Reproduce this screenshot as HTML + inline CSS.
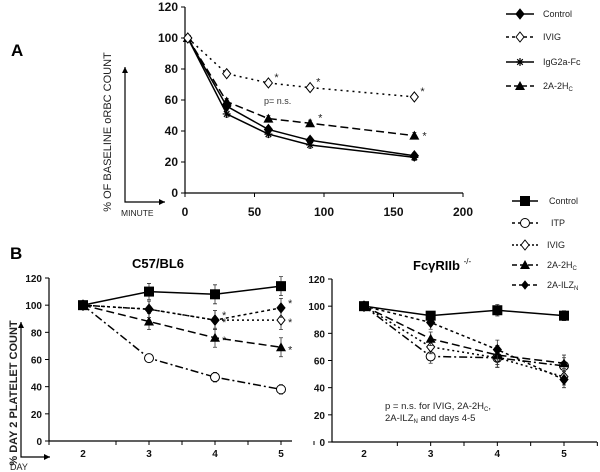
<!DOCTYPE html>
<html><head><meta charset="utf-8">
<style>
html,body{margin:0;padding:0;background:#fff;}
svg{display:block;font-family:"Liberation Sans",Arial,sans-serif;}
.tk{font-size:12px;font-weight:bold;fill:#111;}
.tks{font-size:10px;font-weight:bold;fill:#111;}
.lg{font-size:9px;fill:#222;}
</style></head>
<body>
<svg id="fig" width="600" height="472" viewBox="0 0 600 472">
<text x="11" y="56" font-size="17" font-weight="bold">A</text>
<text x="10" y="259" font-size="17" font-weight="bold">B</text>
<text transform="translate(111,132) rotate(-90)" text-anchor="middle" font-size="11" fill="#222">% OF BASELINE oRBC COUNT</text>
<text x="121" y="216" font-size="8.5" fill="#222">MINUTE</text>
<text transform="translate(17,393) rotate(-90)" text-anchor="middle" font-size="11" font-weight="bold" fill="#222">% DAY  2  PLATELET COUNT</text>
<text x="10" y="470" font-size="9" fill="#222">DAY</text>
<text x="158" y="268" text-anchor="middle" font-size="13" font-weight="bold">C57/BL6</text>
<text x="413" y="270" font-size="13" font-weight="bold">FcγRIIb <tspan font-size="8" dy="-6" font-weight="normal">-/-</tspan></text>
<text x="385" y="409" font-size="9.5" fill="#222">p = n.s.  for  IVIG, 2A-2H<tspan font-size="6" dy="2">C</tspan><tspan dy="-2">,</tspan></text>
<text x="385" y="421" font-size="9.5" fill="#222">2A-ILZ<tspan font-size="6" dy="2">N</tspan><tspan dy="-2"> and days 4-5</tspan></text>
<text x="264" y="104" font-size="9" fill="#333">p= n.s.</text>
<g id="g"></g>
</svg>
<script>
// Panel A data
const topX = [2, 30, 60, 90, 165];
const topControl = [100, 56, 41, 34, 24];
const topIVIG = [100, 77, 71, 68, 62];
const topIgG = [100, 51, 38, 31, 23];
const top2A = [100, 59, 48, 45, 37];
const topYTicks = [0, 20, 40, 60, 80, 100, 120];
const topXTicks = [0, 50, 100, 150, 200];
// Panel B data
const days = [2, 3, 4, 5];
const dayTicks = ["2", "3", "4", "5"];
const bYTicks = [0, 20, 40, 60, 80, 100, 120];
const lControl = [100, 110, 108, 114];
const lITP = [100, 61, 47, 38];
const lIVIG = [100, 97, 89, 89];
const l2A2H = [100, 88, 76, 69];
const l2AILZ = [100, 97, 89, 98];
const rControl = [100, 93, 97, 93];
const rITP = [100, 63, 62, 56];
const rIVIG = [100, 70, 62, 48];
const r2A2H = [100, 76, 64, 58];
const r2AILZ = [100, 88, 68, 46];
const lErr = [0, 6, 7, 7];
const rErr = [0, 5, 7, 6];

const NS = "http://www.w3.org/2000/svg";
const G = document.getElementById('g');
function el(tag, attrs, parent) {
  const e = document.createElementNS(NS, tag);
  for (const k in attrs) e.setAttribute(k, attrs[k]);
  (parent || G).appendChild(e);
  return e;
}
function marker(type, x, y, s, parent) {
  let m;
  if (type === 'fdiamond' || type === 'odiamond') {
    m = el('polygon', {points: `${x},${y-s} ${x+s*0.8},${y} ${x},${y+s} ${x-s*0.8},${y}`, fill: type === 'fdiamond' ? '#000' : '#fff', stroke: '#000', 'stroke-width': 1}, parent);
  } else if (type === 'tri') {
    m = el('polygon', {points: `${x},${y-s} ${x+s},${y+s*0.8} ${x-s},${y+s*0.8}`, fill: '#000'}, parent);
  } else if (type === 'square') {
    m = el('rect', {x: x-s, y: y-s, width: 2*s, height: 2*s, fill: '#000'}, parent);
  } else if (type === 'circle') {
    m = el('circle', {cx: x, cy: y, r: s, fill: '#fff', stroke: '#000', 'stroke-width': 1}, parent);
  } else if (type === 'star') {
    m = el('path', {d: `M${x-s},${y}H${x+s}M${x},${y-s}V${y+s}M${x-s*0.7},${y-s*0.7}L${x+s*0.7},${y+s*0.7}M${x-s*0.7},${y+s*0.7}L${x+s*0.7},${y-s*0.7}`, stroke: '#000', 'stroke-width': 1.2}, parent);
  }
  
  
  return m;
}
function series(name, xs, ys, sx, sy, dash, mk, ms, err) {
  const g = el('g', {});
  
  
  const pts = xs.map((v, i) => `${sx(v)},${sy(ys[i])}`).join(' ');
  const pl = el('polyline', {points: pts, fill: 'none', stroke: '#000', 'stroke-width': 1.5, 'stroke-dasharray': dash}, g);
  
  
  xs.forEach((v, i) => {
    const e = err ? err[i] : 0;
    if (e) {
      const x = sx(v), y1 = sy(ys[i] + e), y2 = sy(ys[i] - e);
      const eb = el('path', {d: `M${x},${y1}V${y2}M${x-2},${y1}H${x+2}M${x-2},${y2}H${x+2}`, stroke: '#333', 'stroke-width': 0.8}, g);
      
      
    }
    marker(mk, sx(v), sy(ys[i]), ms, g);
  });
}
function star(x, y, name) {
  const t = el('text', {x: x, y: y, 'font-size': 11, fill: '#222'});
  t.textContent = '*';
  
  
}
function axes(x0, x1, y0, y1, yT, ymax, xTicksPos, xLabels, cls, xLabY, name) {
  const sy = v => y0 - (v / ymax) * (y0 - y1);
  const a = el('path', {d: `M${x0},${y1}V${y0}H${x1}`, stroke: '#000', 'stroke-width': 1.2, fill: 'none'});
  
  
  yT.forEach(v => {
    const y = sy(v);
    el('line', {x1: x0-4, x2: x0, y1: y, y2: y, stroke: '#000'});
    const t = el('text', {x: x0-7, y: y+4, 'text-anchor': 'end', class: cls});
    t.textContent = v;
    
    
  });
  xTicksPos.forEach((x, i) => {
    el('line', {x1: x, x2: x, y1: y0, y2: y0+4, stroke: '#000'});
    if (xLabels[i] !== null) {
      const t = el('text', {x: x, y: xLabY, 'text-anchor': 'middle', class: cls});
      t.textContent = xLabels[i];
      
      
    }
  });
  return sy;
}
function arrow(x0, y0, x1, y1) {
  el('path', {d: `M${x0},${y0}V${y1}H${x1}`, stroke: '#000', 'stroke-width': 1.2, fill: 'none'});
  el('polygon', {points: `${x0-3},${y0+6} ${x0+3},${y0+6} ${x0},${y0}`, fill: '#000'});
  el('polygon', {points: `${x1-6},${y1-3} ${x1-6},${y1+3} ${x1},${y1}`, fill: '#000'});
}
arrow(125, 67, 165, 202);
arrow(21, 322, 50, 457);

// Panel A
const tsx = v => 185 + v / 200 * (463 - 185);
const tsy = axes(185, 463, 193, 7, topYTicks, 120, topXTicks.map(tsx), topXTicks, 'tk', 216, 'top');
series('igg2a-fc', topX, topIgG, tsx, tsy, 'none', 'star', 4, [0,2,2,2,2]);
series('control', topX, topControl, tsx, tsy, 'none', 'fdiamond', 5, [0,2,2,2,2]);
series('2a-2hc', topX, top2A, tsx, tsy, '8,4', 'tri', 5, [0,2,2,2,2]);
series('ivig', topX, topIVIG, tsx, tsy, '2,4', 'odiamond', 5, [0,2,2,2,2]);
[2,3,4].forEach(i => star(tsx(topX[i]) + 6, tsy(topIVIG[i]) - 2, 'significance-star'));
star(tsx(topX[3]) + 8, tsy(top2A[3]) - 2, 'significance-star');
star(tsx(topX[4]) + 8, tsy(top2A[4]) + 4, 'significance-star');

// Panel B left
const lx = d => 83 + (d - 2) * (281 - 83) / 3;
const lsy = axes(49, 292, 441, 278, bYTicks, 120, [49].concat([2.5,3,3.5,4,4.5,5,5.5].map(lx)), [null, null, "3", null, "4", null, "5", null], 'tks', 457, 'left');
(function(){ const t = el('text', {x: lx(2), y: 457, 'text-anchor': 'middle', class: 'tks'}); t.textContent = dayTicks[0];   })();
series('left-itp', days, lITP, lx, lsy, '8,3,2,3', 'circle', 4.5, lErr.map(e => e*0.5));
series('left-2a-2hc', days, l2A2H, lx, lsy, '8,4', 'tri', 5, lErr);
series('left-ivig', days, lIVIG, lx, lsy, '2,3', 'odiamond', 5, lErr);
series('left-2a-ilzn', days, l2AILZ, lx, lsy, '3,3', 'fdiamond', 5, lErr);
series('left-control', days, lControl, lx, lsy, 'none', 'square', 5, lErr);
[2,3].forEach(i => { star(lx(days[i]) + 7, lsy(l2AILZ[i]) - 1, 'significance-star'); star(lx(days[i]) + 7, lsy(lIVIG[i]) + 6, 'significance-star'); star(lx(days[i]) + 7, lsy(l2A2H[i]) + 6, 'significance-star'); });

// Panel B right
const rx = d => 364 + (d - 2) * (564 - 364) / 3;
const rsy = axes(332, 597, 442, 279, bYTicks, 120, [2.5,3,3.5,4,4.5,5,5.5].map(rx), [null,"3",null,"4",null,"5",null], 'tks', 457, 'right');
(function(){ const t = el('text', {x: rx(2), y: 457, 'text-anchor': 'middle', class: 'tks'}); t.textContent = dayTicks[0];   })();
series('right-itp', days, rITP, rx, rsy, '8,3,2,3', 'circle', 4.5, rErr);
series('right-ivig', days, rIVIG, rx, rsy, '2,3', 'odiamond', 5, rErr);
series('right-2a-2hc', days, r2A2H, rx, rsy, '8,4', 'tri', 5, rErr);
series('right-2a-ilzn', days, r2AILZ, rx, rsy, '3,3', 'fdiamond', 5, rErr);
series('right-control', days, rControl, rx, rsy, 'none', 'square', 5, rErr.map(e => e*0.6));

// Legends
function legend(items, x0, x1, lx0) {
  items.forEach(it => {
    const g = el('g', {});
    
    
    el('line', {x1: x0, x2: x1, y1: it.y, y2: it.y, stroke: '#000', 'stroke-width': 1.5, 'stroke-dasharray': it.dash}, g);
    marker(it.mk, (x0 + x1) / 2, it.y, it.s, g);
    const t = el('text', {x: it.lx || lx0, y: it.y + 3, class: 'lg'}, g);
    t.innerHTML = it.label;
  });
}
legend([
  {name: 'control', y: 14, dash: 'none', mk: 'fdiamond', s: 5, label: 'Control'},
  {name: 'ivig', y: 37, dash: '3,3', mk: 'odiamond', s: 5, label: 'IVIG'},
  {name: 'igg2a-fc', y: 62, dash: 'none', mk: 'star', s: 4, label: 'IgG2a-Fc'},
  {name: '2a-2hc', y: 86, dash: '5,3', mk: 'tri', s: 5, label: '2A-2H<tspan font-size="6" dy="2">C</tspan>'}
], 506, 534, 543);
legend([
  {name: 'control', y: 201, dash: 'none', mk: 'square', s: 5, label: 'Control', lx: 549},
  {name: 'itp', y: 223, dash: '3,3', mk: 'circle', s: 4.5, label: 'ITP', lx: 551},
  {name: 'ivig', y: 245, dash: '2,2', mk: 'odiamond', s: 5, label: 'IVIG'},
  {name: '2a-2hc', y: 265, dash: '5,3', mk: 'tri', s: 5, label: '2A-2H<tspan font-size="6" dy="2">C</tspan>'},
  {name: '2a-ilzn', y: 285, dash: '4,3', mk: 'fdiamond', s: 4, label: '2A-ILZ<tspan font-size="6" dy="2">N</tspan>'}
], 512, 538, 547);
</script>
</body></html>
